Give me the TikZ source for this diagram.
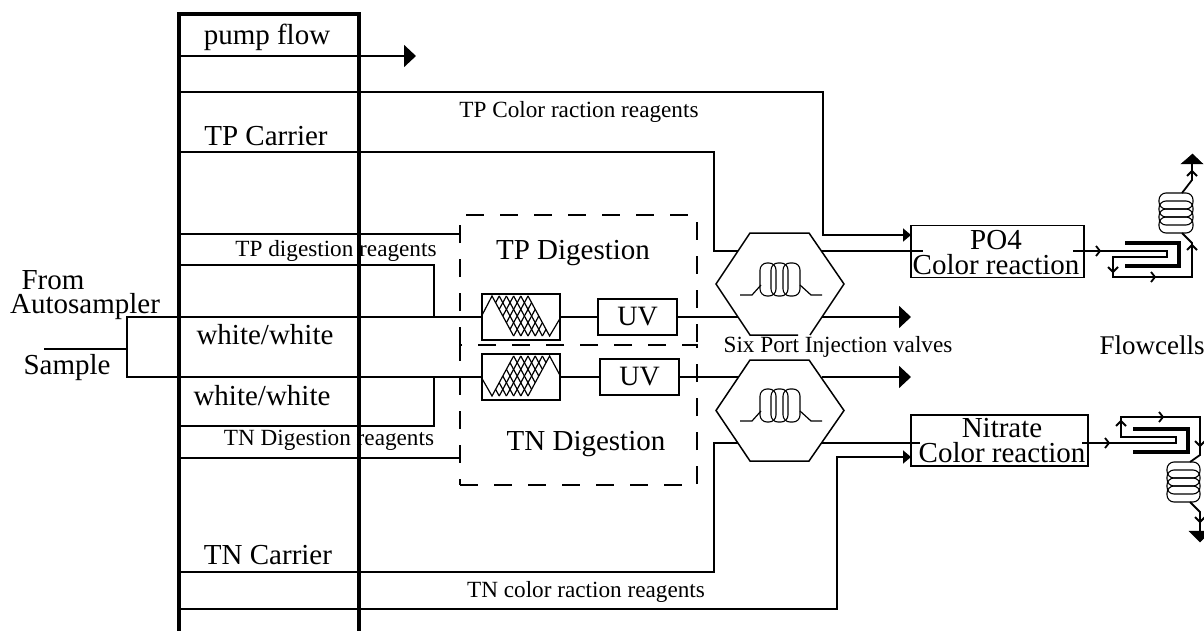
\documentclass[tikz,border=0pt]{standalone}
\usepackage{fontspec}
\setmainfont{Liberation Serif}
\usetikzlibrary{arrows.meta}
\tikzset{
	flow/.style={line width=1.8pt},
	pumpwall/.style={line width=4pt},
	flowtip/.style={flow,-{Triangle[length=12pt,width=22pt]}},
	boxtip/.style={flow,-{Triangle[length=8pt,width=13pt]}},
	hexline/.style={line width=1.5pt},
	thincoil/.style={line width=1.2pt},
	roundcoil/.style={line width=1.1pt,rounded corners=7pt},
	thickcell/.style={line width=4pt},
	digestline/.style={line width=1.8pt,dash pattern=on 18pt off 16pt},
	unitbox/.style={draw,line width=1.8pt,inner sep=0pt},
	bigtext/.style={font=\fontsize{29}{25}\selectfont,inner sep=0pt,align=center},
	smalltext/.style={font=\fontsize{23.2}{23}\selectfont,inner sep=0pt}
}
\begin{document}
\begin{tikzpicture}[x=1pt,y=-1pt]
	\useasboundingbox (0,0) rectangle (1204,631);

	\coordinate (walltopL) at (179,14);
	\coordinate (wallbotL) at (179,631);
	\coordinate (walltopR) at (359,14);
	\coordinate (wallbotR) at (359,631);
	\draw[pumpwall] (wallbotL) -- (walltopL) -- (walltopR) -- (wallbotR);

	\coordinate (tpboxL) at (460,345);
	\coordinate (tpboxR) at (697,345);
	\draw[digestline] (tpboxL) -- (460,215) -- (697,215) -- (tpboxR);
	\node[draw,digestline,minimum width=237pt,minimum height=140pt,inner sep=0pt] (tnbox) at (578.5,415) {};

	\node[unitbox,minimum width=78pt,minimum height=46pt] (tpcoil) at (521,317) {};
	\node[unitbox,minimum width=78pt,minimum height=46pt] (tncoil) at (521,377) {};
	\node[unitbox,minimum width=79pt,minimum height=36pt,font=\fontsize{28}{28}\selectfont] (tpuv) at (637.5,317) {UV};
	\node[unitbox,minimum width=79pt,minimum height=36pt,font=\fontsize{28}{28}\selectfont] (tnuv) at (639.5,377) {UV};
	\node[unitbox,minimum width=173pt,minimum height=52pt] (po4box) at (997.5,251.5) {};
	\node[unitbox,minimum width=177pt,minimum height=51pt] (nitratebox) at (999.5,440.5) {};

	\coordinate (pumpflowL) at (179,56);
	\coordinate (pumpflowR) at (416,56);
	\draw[flowtip] (pumpflowL) -- (pumpflowR);

	\coordinate (tpcolorL) at (179,92);
	\coordinate (po4top) at (911,235);
	\draw[boxtip] (tpcolorL) -| (823,235) -- (po4top);

	\coordinate (tpcarrierL) at (179,152);
	\coordinate (hextpL) at (738,251);
	\draw[flow] (tpcarrierL) -| (714,251) -- (hextpL);

	\coordinate (hextpR) at (822,251);
	\coordinate (po4mid) at (923,251);
	\draw[flow] (hextpR) -- (po4mid);

	\coordinate (tpdigestL) at (179,234);
	\coordinate (tpdigestR) at (460,234);
	\draw[flow] (tpdigestL) -- (tpdigestR);

	\coordinate (tpfeedL) at (179,265);
	\coordinate (tnfeedL) at (179,426);
	\coordinate (tpjoin) at (434,317);
	\coordinate (tnjoin) at (434,377);
	\draw[flow] (tpfeedL) -| (tpjoin);
	\draw[flow] (tnfeedL) -| (tnjoin);

	\coordinate (tndigestL) at (179,458);
	\coordinate (tndigestR) at (460,458);
	\draw[flow] (tndigestL) -- (tndigestR);

	\coordinate (samplein) at (44,349);
	\coordinate (splitjoin) at (127,349);
	\draw[flow] (samplein) -- (splitjoin);
	\draw[flow] (tpcoil.west) -| (splitjoin) |- (tncoil.west);
	\draw[flow] (tpcoil.east) -- (tpuv.west);
	\draw[flow] (tncoil.east) -- (tnuv.west);

	\coordinate (hexuvtpL) at (738,317);
	\coordinate (hexuvtpR) at (822,317);
	\coordinate (tpoutR) at (911,317);
	\draw[flow] (tpuv.east) -- (hexuvtpL);
	\draw[flowtip] (hexuvtpR) -- (tpoutR);
	\coordinate (hexuvtnL) at (738,377);
	\coordinate (hexuvtnR) at (822,377);
	\coordinate (tnoutR) at (911,377);
	\draw[flow] (tnuv.east) -- (hexuvtnL);
	\draw[flowtip] (hexuvtnR) -- (tnoutR);

	\coordinate (tncarrierL) at (179,572);
	\coordinate (hextnL) at (738,443);
	\draw[flow] (tncarrierL) -| (714,443) -- (hextnL);

	\coordinate (hextnR) at (822,443);
	\coordinate (nitratemid) at (920,443);
	\draw[flow] (hextnR) -- (nitratemid);

	\coordinate (tncolorL) at (179,609);
	\coordinate (nitratelow) at (911,457);
	\draw[boxtip] (tncolorL) -| (837,457) -- (nitratelow);

	\draw[hexline] (798,335) -- (750,335) -- (716,284) -- (750,233) -- (809,233) -- (844,284) -- (810,335);
	\draw[hexline] (750,360) -- (809,360) -- (844,410.5) -- (809,461) -- (750,461) -- (716,410.5) -- cycle;

	\draw[thincoil] (740,295) -- (752,295) -- (761,285);
	\draw[thincoil] (800,285) -- (811,295) -- (822,295);
	\draw[roundcoil] (760,263) rectangle (776,296);
	\draw[roundcoil] (771,263) rectangle (788,296);
	\draw[roundcoil] (783,263) rectangle (800,296);

	\draw[thincoil] (740,421) -- (752,421) -- (761,411);
	\draw[thincoil] (800,411) -- (811,421) -- (822,421);
	\draw[roundcoil] (760,389) rectangle (776,422);
	\draw[roundcoil] (771,389) rectangle (788,422);
	\draw[roundcoil] (783,389) rectangle (800,422);

	\draw[thincoil] (tpcoil.west) -- (492,296) -- (513.6,336) (499.2,296) -- (520.8,336) (506.4,296) -- (528,336) (513.6,296) -- (535.2,336) (520.8,296) -- (542.4,336) (528,296) -- (549.6,336) -- (tpcoil.east);
	\draw[thincoil] (499.2,296) -- (495.6,302.67) (506.4,296) -- (499.2,309.33) (513.6,296) -- (502.8,316) (520.8,296) -- (506.4,322.67) (528,296) -- (510,329.33);
	\draw[thincoil] (513.6,336) -- (531.6,302.67) (520.8,336) -- (535.2,309.33) (528,336) -- (538.8,316) (535.2,336) -- (542.4,322.67) (542.4,336) -- (546,329.33);

	\draw[thincoil] (tncoil.west) -- (492,396) -- (513.6,356) (499.2,396) -- (520.8,356) (506.4,396) -- (528,356) (513.6,396) -- (535.2,356) (520.8,396) -- (542.4,356) (528,396) -- (549.6,356) -- (tncoil.east);
	\draw[thincoil] (499.2,396) -- (495.6,389.33) (506.4,396) -- (499.2,382.67) (513.6,396) -- (502.8,376) (520.8,396) -- (506.4,369.33) (528,396) -- (510,362.67);
	\draw[thincoil] (513.6,356) -- (531.6,389.33) (520.8,356) -- (535.2,382.67) (528,356) -- (538.8,376) (535.2,356) -- (542.4,369.33) (542.4,356) -- (546,362.67);

	\coordinate (po4cellin) at (1073,251);
	\draw[flow] (po4cellin) -- (1167,251) -- (1167,257) -- (1113,257) -- (1113,277) -- (1192,277) -- (1192,243) -- (1182,233);
	\draw[thickcell] (1125,243) -- (1179,243) -- (1179,266) -- (1125,266);
	\draw[flow] (1096,246) -- (1100,251) -- (1096,256);
	\draw[flow] (1108,267) -- (1113,272) -- (1118,267);
	\draw[flow] (1151,272) -- (1155,277) -- (1151,282);
	\draw[flow] (1187,250) -- (1192,245) -- (1197,250);
	\draw[flow] (1187,176) -- (1192,171) -- (1197,176);
	\draw[roundcoil] (1159,193) rectangle (1193,209);
	\draw[roundcoil] (1159,201) rectangle (1193,217);
	\draw[roundcoil] (1159,209) rectangle (1193,225);
	\draw[roundcoil] (1159,217) rectangle (1193,233);
	\coordinate (po4drain) at (1192,164);
	\draw[flow] (1182,193) -- (1192,180) -- (po4drain);
	\filldraw (1181,164) -- (1192.5,154) -- (1203,164) -- cycle;

	\coordinate (nitratecellin) at (1082,443);
	\draw[flow] (nitratecellin) -- (1176,443) -- (1176,437) -- (1121,437) -- (1121,417) -- (1200,417) -- (1200,455) -- (1190,462);
	\draw[thickcell] (1133,429) -- (1188,429) -- (1188,452) -- (1133,452);
	\draw[flow] (1105,438) -- (1109,443) -- (1105,448);
	\draw[flow] (1116,426) -- (1121,421) -- (1126,426);
	\draw[flow] (1159,412) -- (1163,417) -- (1159,422);
	\draw[flow] (1195,441) -- (1200,446) -- (1205,441);
	\draw[flow] (1195,517) -- (1200,522) -- (1205,517);
	\draw[roundcoil] (1167,462) rectangle (1200,478);
	\draw[roundcoil] (1167,470) rectangle (1200,486);
	\draw[roundcoil] (1167,478) rectangle (1200,494);
	\draw[roundcoil] (1167,486) rectangle (1200,502);
	\coordinate (nitratedrain) at (1200,531);
	\draw[flow] (1190,502) -- (1200,512) -- (nitratedrain);
	\filldraw (1189,531) -- (1200,542) -- (1204,538) -- (1204,531) -- cycle;

	\node[bigtext] (po4label) at (996,253) {PO4\\Color reaction};
	\node[bigtext] (nitratelabel) at (1002,441) {Nitrate\\Color reaction};
	\node[bigtext] (pumpflowlabel) at (267,37) {pump flow};
	\node[bigtext] (tpcarrierlabel) at (266,136) {TP Carrier};
	\node[smalltext] (tpcolorlabel) at (579,112) {TP Color raction reagents};
	\node[smalltext] (tpdigestlabel) at (336,251) {TP digestion reagents};
	\node[bigtext] (tpdigestionlabel) at (573,253) {TP Digestion};
	\node[bigtext] (fromlabel) at (53,280) {From};
	\node[bigtext] (autosamplerlabel) at (85,307) {Autosampler};
	\node[bigtext] (whiteonelabel) at (265,335) {white/white};
	\node[bigtext] (samplelabel) at (67,368) {Sample};
	\node[smalltext] (sixportlabel) at (838,347) {Six Port Injection valves};
	\node[bigtext,font=\fontsize{27}{27}\selectfont] (flowcellslabel) at (1152,345) {Flowcells};
	\node[bigtext] (whitetwolabel) at (262,396) {white/white};
	\node[smalltext] (tndigestlabel) at (329,440) {TN Digestion reagents};
	\node[bigtext] (tndigestionlabel) at (586,444) {TN Digestion};
	\node[bigtext] (tncarrierlabel) at (268,555) {TN Carrier};
	\node[smalltext] (tncolorlabel) at (586,592) {TN color raction reagents};
\end{tikzpicture}
\end{document}
